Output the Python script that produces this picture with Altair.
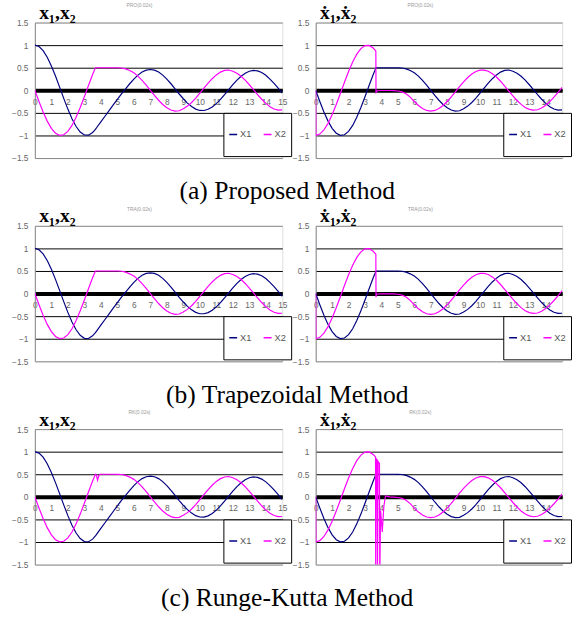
import altair as alt
import pandas as pd

# ---- time grid and curves ----
T = [0, 0.25, 0.5, 0.75, 1, 1.25, 1.5, 1.75, 2, 2.25, 2.5, 2.75, 3, 3.25, 3.5, 3.67,
     3.75, 4, 4.25, 4.5, 4.75, 5, 5.25, 5.5, 5.75, 6, 6.25, 6.5, 6.75, 7, 7.25, 7.5,
     7.75, 8, 8.25, 8.5, 8.75, 9, 9.25, 9.5, 9.75, 10, 10.25, 10.5, 10.75, 11, 11.25,
     11.5, 11.75, 12, 12.25, 12.5, 12.75, 13, 13.25, 13.5, 13.75, 14, 14.25, 14.5,
     14.75, 15]

X1 = [1.000, 0.969, 0.878, 0.732, 0.540, 0.315, 0.071, -0.178, -0.416, -0.628, -0.801,
      -0.924, -0.990, -0.994, -0.936, -0.866, -0.824, -0.699, -0.574, -0.449, -0.324,
      -0.199, -0.078, 0.033, 0.145, 0.248, 0.337, 0.404, 0.446, 0.460, 0.446, 0.404,
      0.337, 0.248, 0.145, 0.033, -0.082, -0.187, -0.283, -0.360, -0.416, -0.446,
      -0.447, -0.421, -0.369, -0.294, -0.201, -0.095, 0.017, 0.125, 0.225, 0.312,
      0.379, 0.422, 0.440, 0.430, 0.393, 0.332, 0.249, 0.153, 0.048, -0.064]

X2 = [0.000, -0.247, -0.479, -0.682, -0.841, -0.949, -0.997, -0.984, -0.909, -0.778,
      -0.598, -0.382, -0.141, 0.108, 0.351, 0.500, 0.500, 0.500, 0.500, 0.500, 0.500,
      0.499, 0.494, 0.475, 0.437, 0.387, 0.314, 0.220, 0.114, 0.000, -0.114, -0.220,
      -0.314, -0.387, -0.437, -0.459, -0.453, -0.409, -0.350, -0.269, -0.172, -0.063,
      0.049, 0.158, 0.257, 0.341, 0.403, 0.440, 0.450, 0.422, 0.378, 0.311, 0.224,
      0.123, 0.015, -0.095, -0.198, -0.289, -0.362, -0.413, -0.437, -0.435]

DX2_T = [0, 0.01, 0.25, 0.5, 0.75, 1, 1.25, 1.5, 1.75, 2, 2.25, 2.5, 2.75, 3, 3.25, 3.5,
         3.6, 3.66, 3.67, 3.75, 4, 4.25, 4.5, 4.75, 5, 5.25, 5.5, 5.75, 6, 6.25, 6.5,
         6.75, 7, 7.25, 7.5, 7.75, 8, 8.25, 8.5, 8.75, 9, 9.25, 9.5, 9.75, 10, 10.25,
         10.5, 10.75, 11, 11.25, 11.5, 11.75, 12, 12.25, 12.5, 12.75, 13, 13.25, 13.5,
         13.75, 14, 14.25, 14.5, 14.75, 15]

DX2 = [0.000, -1.000, -0.969, -0.878, -0.732, -0.540, -0.315, -0.071, 0.178, 0.416,
       0.628, 0.801, 0.924, 0.990, 0.994, 0.936, 0.896, 0.870, -0.050, -0.010, -0.005,
       -0.005, -0.005, -0.008, -0.015, -0.035, -0.075, -0.150, -0.248, -0.337, -0.404,
       -0.446, -0.460, -0.446, -0.404, -0.337, -0.248, -0.145, -0.033, 0.082, 0.187,
       0.283, 0.360, 0.416, 0.446, 0.447, 0.421, 0.369, 0.294, 0.201, 0.095, -0.017,
       -0.125, -0.225, -0.312, -0.379, -0.422, -0.440, -0.430, -0.393, -0.332, -0.249,
       -0.153, -0.048, 0.064]

# method-specific deviations around the switching instant
TRA_DX2_PATCH_T = [3.66, 3.67, 3.69, 3.75]
TRA_DX2_PATCH = [0.870, -0.080, -0.030, -0.010]
RK_X2_PATCH_T = [3.67, 3.72, 3.80, 3.88, 3.95, 4.0]
RK_X2_PATCH = [0.500, 0.490, 0.370, 0.470, 0.500, 0.500]
RK_DX2_PATCH_T = [3.60, 3.64, 3.65, 3.68, 3.74, 3.76, 3.80, 3.88, 3.90, 3.95, 4.05,
                  4.15, 4.25, 4.50]
RK_DX2_PATCH = [0.900, 0.880, -1.800, 0.840, 0.820, -1.800, 0.780, 0.740, -1.800,
                -0.300, -0.780, -0.200, 0.020, 0.000]

SERIES = ["X1", "X2"]
COLORS = ["#000080", "#FF00FF"]
METHOD_TAGS = ["PRO(0.02s)", "TRA(0.02s)", "RK(0.02s)"]
CAPTIONS = ["(a) Proposed Method", "(b) Trapezoidal Method", "(c) Runge-Kutta Method"]
Y_LABELS = ["x\u2081,x\u2082", "\u1e8b\u2081,\u1e8b\u2082"]
Y_TICKS = [-1.5, -1, -0.5, 0, 0.5, 1, 1.5]
X_TICKS_LEFT = list(range(0, 16))
X_TICKS_RIGHT = list(range(0, 15))


def patch(ts, vs, pts, pvs):
    lo, hi = min(pts), max(pts)
    pairs = [(t, v) for t, v in zip(ts, vs) if t < lo or t > hi] + list(zip(pts, pvs))
    pairs.sort()
    return [p[0] for p in pairs], [p[1] for p in pairs]


def frame(parts):
    rows = []
    for name, ts, vs in parts:
        assert len(ts) == len(vs), name
        rows += [{"t": t, "v": v, "s": name} for t, v in zip(ts, vs)]
    return pd.DataFrame(rows)


H = 138
WL = 252
WR = 251


def panel(df, ylabel, tag, xticks, width, caption=None):
    kw = dict(width=width, height=H)
    if caption:
        kw["title"] = alt.TitleParams(
            text=caption, orient="bottom", anchor="middle", frame="group", dx=131,
            offset=37.5, baseline="alphabetic", font="Liberation Serif", fontSize=26,
            fontWeight="normal", color="black")
    return alt.Chart(df).mark_line(clip=True, strokeWidth=1.2).encode(
        x=alt.X("t:Q", scale=alt.Scale(domain=[0, 15], nice=False, zero=False),
                axis=alt.Axis(values=xticks, format="d", offset=-H / 2,
                              domainColor="black", domainWidth=4, ticks=False,
                              grid=False, labelFlush=False, labelOverlap=False,
                              labelColor="#666", labelFontSize=8.5,
                              labelFont="Liberation Sans", labelPadding=7,
                              title=tag, titleX=106, titleY=-87, titleAngle=0,
                              titleAlign="center", titleBaseline="middle",
                              titleFontSize=5, titleFontWeight="normal",
                              titleColor="#999", titleFont="Liberation Sans")),
        y=alt.Y("v:Q", scale=alt.Scale(domain=[-1.5, 1.5], nice=False, zero=False),
                axis=alt.Axis(values=Y_TICKS, format="~g", ticks=False,
                              domainColor="#888", labelColor="#666", labelFontSize=8.5,
                              labelFont="Liberation Sans", labelPadding=7,
                              labelOverlap=False, grid=True,
                              gridColor={"condition": {"test": "abs(datum.value) > 1.4",
                                                       "value": "#888"},
                                         "value": "black"},
                              gridWidth=1,
                              title=ylabel, titleX=4, titleY=-4, titleAngle=0,
                              titleAlign="left", titleBaseline="alphabetic",
                              titleFont="Liberation Serif", titleFontSize=20,
                              titleFontWeight="bold", titleColor="black")),
        color=alt.Color("s:N", scale=alt.Scale(domain=SERIES, range=COLORS),
                        legend=alt.Legend(orient="none", legendX=width - 60, legendY=92,
                                          direction="horizontal", title=None,
                                          fillColor="white", strokeColor="black",
                                          padding=5, clipHeight=34, symbolType="stroke",
                                          symbolSize=64, symbolStrokeWidth=1.5,
                                          labelFontSize=9.5, labelColor="#555",
                                          labelFont="Liberation Sans", labelOffset=2,
                                          columnPadding=11, cornerRadius=0)),
    ).properties(**kw)


tra_dx2_t, tra_dx2 = patch(DX2_T, DX2, TRA_DX2_PATCH_T, TRA_DX2_PATCH)
rk_x2_t, rk_x2 = patch(T, X2, RK_X2_PATCH_T, RK_X2_PATCH)
rk_dx2_t, rk_dx2 = patch(DX2_T, DX2, RK_DX2_PATCH_T, RK_DX2_PATCH)

left_data = [
    frame([("X1", T, X1), ("X2", T, X2)]),
    frame([("X1", T, X1), ("X2", T, X2)]),
    frame([("X1", T, X1), ("X2", rk_x2_t, rk_x2)]),
]
right_data = [
    frame([("X1", T, X2), ("X2", DX2_T, DX2)]),
    frame([("X1", T, X2), ("X2", tra_dx2_t, tra_dx2)]),
    frame([("X1", T, X2), ("X2", rk_dx2_t, rk_dx2)]),
]

panels = []
for i in range(3):
    panels.append(panel(left_data[i], Y_LABELS[0], METHOD_TAGS[i], X_TICKS_LEFT, WL,
                        caption=CAPTIONS[i]))
    panels.append(panel(right_data[i], Y_LABELS[1], METHOD_TAGS[i], X_TICKS_RIGHT, WR))

chart = alt.concat(
    *panels, columns=2, spacing={"row": 69, "column": 34}, bounds="flush"
).resolve_scale(
    color="independent", x="independent", y="independent"
).resolve_legend(color="independent").configure_view(
    stroke="#888", strokeWidth=1
).configure(font="Liberation Sans", background="white").properties(
    padding={"left": 10.5, "top": -3.7, "right": 0, "bottom": 0}
)

chart.save("out.html", embed_options={"renderer": "svg", "actions": False})
